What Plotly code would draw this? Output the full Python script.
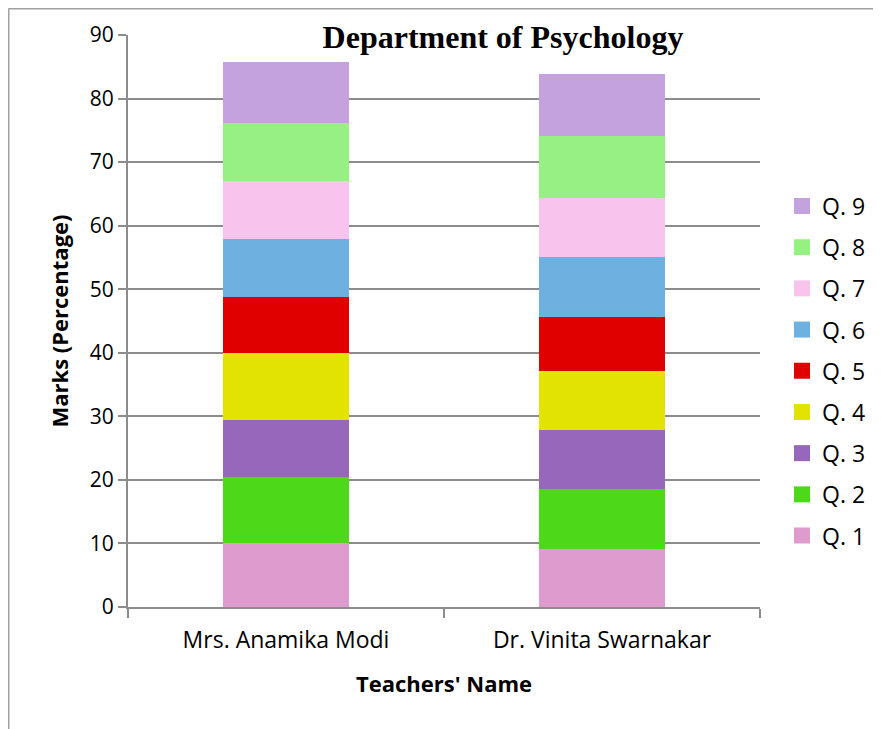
import plotly.graph_objects as go

teachers = ["Mrs. Anamika Modi", "Dr. Vinita Swarnakar"]
questions = ["Q. 1", "Q. 2", "Q. 3", "Q. 4", "Q. 5", "Q. 6", "Q. 7", "Q. 8", "Q. 9"]
q1 = [10.0, 9.2]
q2 = [10.4, 9.3]
q3 = [9.1, 9.4]
q4 = [10.4, 9.3]
q5 = [8.9, 8.5]
q6 = [9.1, 9.3]
q7 = [9.2, 9.4]
q8 = [9.1, 9.7]
q9 = [9.6, 9.8]
series = [q1, q2, q3, q4, q5, q6, q7, q8, q9]
colors = ["#DE9BCE", "#4DD81A", "#9667BA", "#E3E300", "#E00000",
          "#6EB0E0", "#F8C4EE", "#96F083", "#C4A2DE"]

W, H = 873, 721          # page body adds an 8px offset
L, T, PW, PH = 120, 27, 632, 572
R, B = W - L - PW, H - T - PH

fig = go.Figure()
for name, vals, col in zip(questions, series, colors):
    fig.add_trace(go.Bar(x=teachers, y=vals, name=name, marker_color=col,
                         marker_line_width=0, width=0.4, showlegend=False))
# legend entries (larger square swatches), top = Q. 9
for name, col in reversed(list(zip(questions, colors))):
    fig.add_trace(go.Scatter(x=[None], y=[None], mode="markers", name=name,
                             legendgroup=name,
                             marker=dict(symbol="square", size=16, color=col)))

font_sans = "Open Sans"


def px_x(xf):
    return (xf - L) / PW


def px_y(yf):
    return (T + PH - yf) / PH


fig.update_layout(
    barmode="stack",
    width=W, height=H,
    margin=dict(l=L, r=R, t=T, b=B, autoexpand=False),
    plot_bgcolor="white", paper_bgcolor="white",
    title=dict(text="<b>Department of Psychology</b>", x=495 / W, xanchor="center",
               y=1 - 29 / H, yanchor="middle",
               font=dict(family="Liberation Serif", size=32, color="black")),
    legend=dict(traceorder="grouped", tracegroupgap=8.3,
                x=px_x(774), xanchor="left", y=px_y(176.5), yanchor="top",
                font=dict(family=font_sans, size=23, color="black")),
    xaxis=dict(showline=True, linecolor="#8c8c8c", linewidth=2,
               ticks="outside", tickson="boundaries", ticklen=9, tickcolor="#8c8c8c",
               tickwidth=2, ticklabelstandoff=11,
               tickfont=dict(family=font_sans, size=23, color="black"),
               title=dict(text="<b>Teachers' Name</b>", standoff=23,
                          font=dict(family=font_sans, size=22, color="black"))),
    yaxis=dict(range=[0, 90], dtick=10, showline=True, linecolor="#8c8c8c", linewidth=2,
               ticks="outside", ticklen=8, tickcolor="#8c8c8c", tickwidth=2,
               showgrid=True, gridcolor="#8c8c8c", gridwidth=1.5,
               tickfont=dict(family=font_sans, size=21, color="black"),
               title=dict(text="<b>Marks (Percentage)</b>", standoff=15,
                          font=dict(family=font_sans, size=22, color="black"))),
    shapes=[
        dict(type="line", xref="paper", yref="paper", x0=px_x(0.5), x1=px_x(W),
             y0=px_y(0.5), y1=px_y(0.5), line=dict(color="#a0a0a0", width=2)),
        dict(type="line", xref="paper", yref="paper", x0=px_x(0.5), x1=px_x(0.5),
             y0=px_y(0.5), y1=px_y(H), line=dict(color="#a0a0a0", width=2)),
    ],
)

fig.write_html("out.html")
